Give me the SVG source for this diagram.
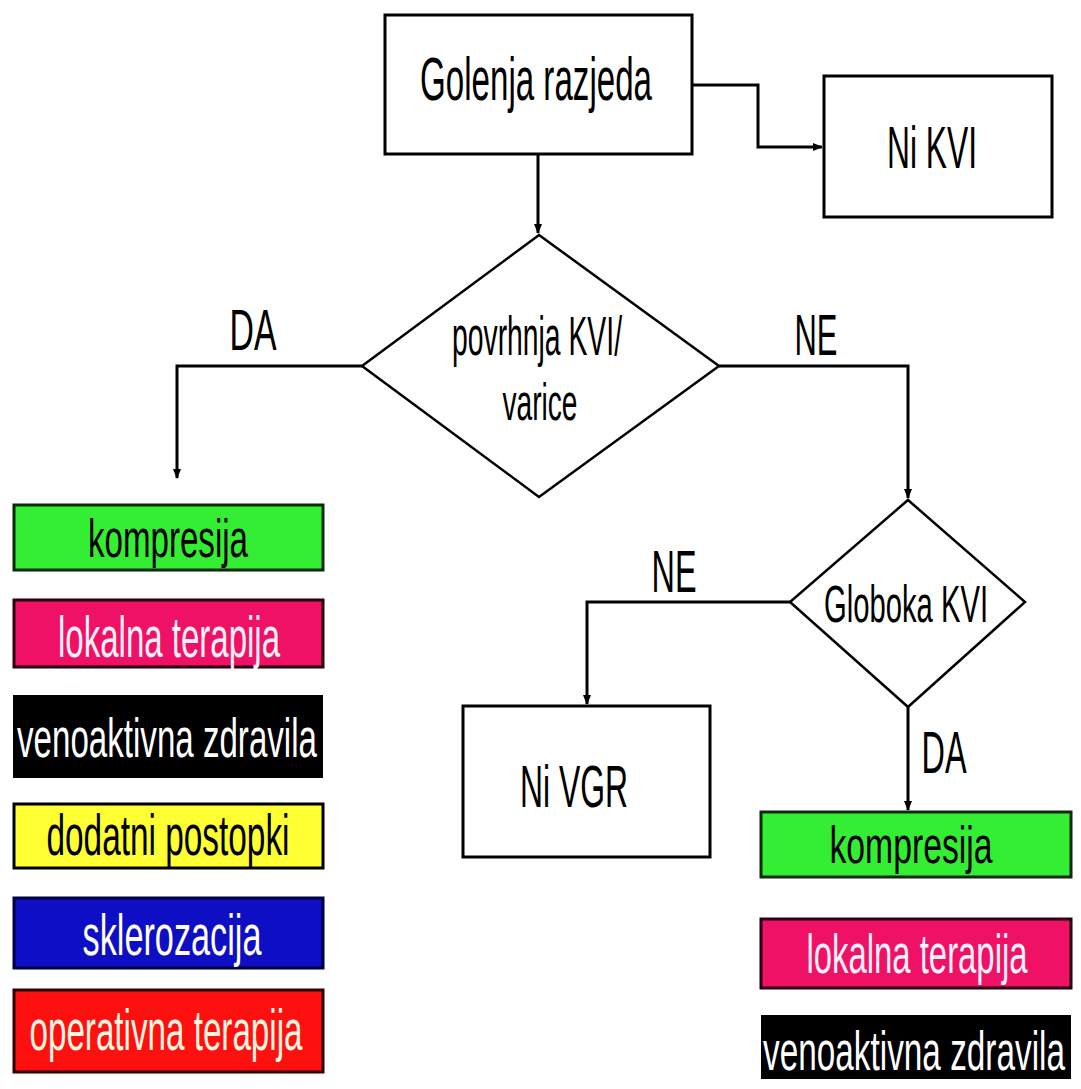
<svg xmlns="http://www.w3.org/2000/svg" width="1081" height="1089" viewBox="0 0 1081 1089">
<style>
.t{font-family:"Liberation Sans",Arial,sans-serif;text-anchor:middle}
.box{fill:#fff;stroke:#000;stroke-width:3}
.dia{fill:#fff;stroke:#000;stroke-width:2.5}
.con{fill:none;stroke:#000;stroke-width:3}
</style>
<defs>
<marker id="arr" markerUnits="userSpaceOnUse" markerWidth="10" markerHeight="10" viewBox="0 0 10 10" refX="9" refY="5" orient="auto">
<path d="M0,1 L10,5 L0,9 Z" fill="#000"/>
</marker>
</defs>
<rect width="1081" height="1089" fill="#fff"/>

<g id="connectors">
<path class="con" d="M538,154 V233" marker-end="url(#arr)"/>
<path class="con" d="M692,85 H758 V147 H822" marker-end="url(#arr)"/>
<path class="con" d="M362,366 H177 V478" marker-end="url(#arr)"/>
<path class="con" d="M719,366 H908 V498" marker-end="url(#arr)"/>
<path class="con" d="M790,602 H587 V704" marker-end="url(#arr)"/>
<path class="con" d="M908,707 V810" marker-end="url(#arr)"/>
<text class="t" x="253" y="350" font-size="58" textLength="47" lengthAdjust="spacingAndGlyphs">DA</text>
<text class="t" x="816" y="355" font-size="58" textLength="43" lengthAdjust="spacingAndGlyphs">NE</text>
<text class="t" x="674" y="592" font-size="60" textLength="45" lengthAdjust="spacingAndGlyphs">NE</text>
<text class="t" x="944" y="773" font-size="60" textLength="45" lengthAdjust="spacingAndGlyphs">DA</text>
</g>

<g id="golenja">
<rect class="box" x="385" y="15" width="307" height="139"/>
<text class="t" x="536" y="100" font-size="62" textLength="232" lengthAdjust="spacingAndGlyphs">Golenja razjeda</text>
</g>

<g id="nikvi">
<rect class="box" x="824" y="76" width="228" height="141"/>
<text class="t" x="932" y="168" font-size="60" textLength="90" lengthAdjust="spacingAndGlyphs">Ni KVI</text>
</g>

<g id="povrhnja">
<polygon class="dia" points="539,235 719,366 539,497 362,366"/>
<text class="t" x="537" y="355" font-size="55" textLength="170" lengthAdjust="spacingAndGlyphs">povrhnja KVI/</text>
<text class="t" x="540" y="420" font-size="52" textLength="75" lengthAdjust="spacingAndGlyphs">varice</text>
</g>

<g id="globoka">
<polygon class="dia" points="908,500 1025,602 908,707 790,602"/>
<text class="t" x="906" y="622" font-size="52" textLength="164" lengthAdjust="spacingAndGlyphs">Globoka KVI</text>
</g>

<g id="nivgr">
<rect class="box" x="463" y="706" width="247" height="151"/>
<text class="t" x="574" y="807" font-size="60" textLength="108" lengthAdjust="spacingAndGlyphs">Ni VGR</text>
</g>

<g id="l-kompresija">
<rect x="14" y="505" width="309" height="65" fill="#33ee33" stroke="#0a2a0a" stroke-width="3"/>
<text class="t" x="168" y="557" font-size="54" fill="#000" textLength="160" lengthAdjust="spacingAndGlyphs">kompresija</text>
</g>
<g id="l-lokalna">
<rect x="14" y="600" width="309" height="67" fill="#ee1166" stroke="#2a0010" stroke-width="3"/>
<text class="t" x="169" y="657" font-size="58" fill="#fff0f8" textLength="222" lengthAdjust="spacingAndGlyphs">lokalna terapija</text>
</g>
<g id="l-venoaktivna">
<rect x="13" y="695" width="310" height="83" fill="#000"/>
<text class="t" x="167" y="757" font-size="55" fill="#fff" textLength="300" lengthAdjust="spacingAndGlyphs">venoaktivna zdravila</text>
</g>
<g id="l-dodatni">
<rect x="14" y="804" width="309" height="64" fill="#ffff33" stroke="#000" stroke-width="3"/>
<text class="t" x="168" y="855" font-size="58" fill="#000" textLength="243" lengthAdjust="spacingAndGlyphs">dodatni postopki</text>
</g>
<g id="l-sklerozacija">
<rect x="14" y="898" width="309" height="70" fill="#0e0ec4" stroke="#000040" stroke-width="3"/>
<text class="t" x="172" y="955" font-size="58" fill="#fff" textLength="179" lengthAdjust="spacingAndGlyphs">sklerozacija</text>
</g>
<g id="l-operativna">
<rect x="14" y="990" width="309" height="82" fill="#ff1010" stroke="#300000" stroke-width="3"/>
<text class="t" x="166" y="1050" font-size="58" fill="#fff6e0" textLength="273" lengthAdjust="spacingAndGlyphs">operativna terapija</text>
</g>

<g id="r-kompresija">
<rect x="761" y="812" width="310" height="65" fill="#33ee33" stroke="#0a2a0a" stroke-width="3"/>
<text class="t" x="911" y="863" font-size="52" fill="#000" textLength="163" lengthAdjust="spacingAndGlyphs">kompresija</text>
</g>
<g id="r-lokalna">
<rect x="761" y="919" width="310" height="69" fill="#ee1166" stroke="#2a0010" stroke-width="3"/>
<text class="t" x="917" y="973" font-size="56" fill="#fff0f8" textLength="221" lengthAdjust="spacingAndGlyphs">lokalna terapija</text>
</g>
<g id="r-venoaktivna">
<rect x="761" y="1015" width="310" height="64" fill="#000"/>
<text class="t" x="914" y="1070" font-size="56" fill="#fff" textLength="302" lengthAdjust="spacingAndGlyphs">venoaktivna zdravila</text>
</g>
</svg>
